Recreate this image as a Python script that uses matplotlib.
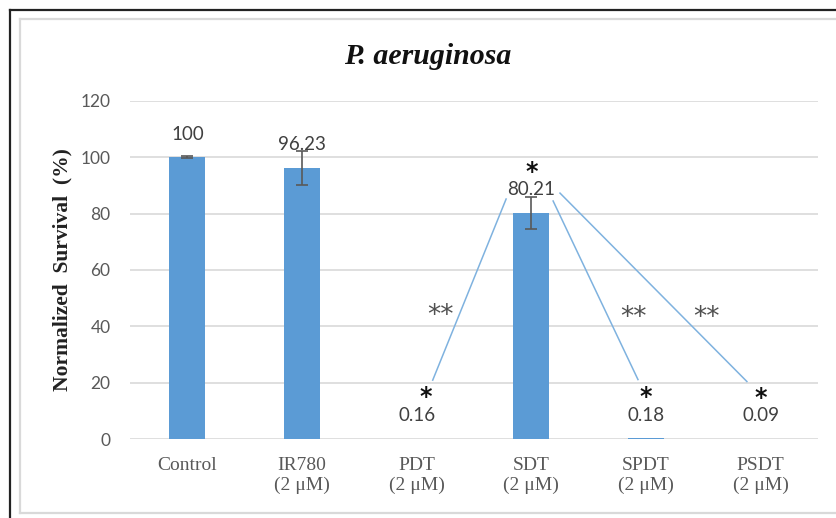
import matplotlib
matplotlib.use("Agg")
import matplotlib.pyplot as plt
from matplotlib.lines import Line2D

categories = ["Control", "IR780\n(2 μM)", "PDT\n(2 μM)", "SDT\n(2 μM)", "SPDT\n(2 μM)", "PSDT\n(2 μM)"]
values = [100, 96.23, 0.16, 80.21, 0.18, 0.09]
value_labels = ["100", "96.23", "0.16", "80.21", "0.18", "0.09"]
errors = [0.3, 6.1, None, 5.8, None, None]
single_star = [False, False, True, True, True, True]
yticks = [0, 20, 40, 60, 80, 100, 120]

# significance brackets (category index, value) pairs
sig_lines = [
    ((2.14, 20.9), (2.78, 85.2)),
    ((3.19, 84.5), (3.93, 21.1)),
    ((3.25, 87.3), (4.88, 20.4)),
]
double_star_pos = [(2.21, 43.5), (3.89, 43.0), (4.53, 43.0)]

W, H = 837, 518
fig = plt.figure(figsize=(W / 100, H / 100), dpi=100)
fig.patch.set_facecolor("white")

# outer frames
fig.add_artist(Line2D([10 / W, 10 / W], [0, 1 - 9.5 / H], color="#222222", lw=1.6, transform=fig.transFigure))
fig.add_artist(Line2D([10 / W, 1], [1 - 9.5 / H, 1 - 9.5 / H], color="#222222", lw=1.6, transform=fig.transFigure))
fig.add_artist(Line2D([20 / W, 20 / W], [1 - 513 / H, 1 - 19 / H], color="#d9d9d9", lw=1.6, transform=fig.transFigure))
fig.add_artist(Line2D([20 / W, 1], [1 - 19 / H, 1 - 19 / H], color="#d9d9d9", lw=1.6, transform=fig.transFigure))
fig.add_artist(Line2D([20 / W, 1], [1 - 513 / H, 1 - 513 / H], color="#d9d9d9", lw=1.6, transform=fig.transFigure))

ax = fig.add_axes([130 / W, 1 - 439 / H, 688 / W, 338 / H])
x = list(range(len(categories)))
ax.bar(x, values, width=0.315, color="#5b9bd5", zorder=3)
for i, (v, e) in enumerate(zip(values, errors)):
    if e is not None:
        ax.errorbar(i, v, yerr=e, fmt="none", ecolor="#595959", elinewidth=1.2,
                    capsize=4.5, capthick=1.2, zorder=4)

ax.set_xlim(-0.5, 5.5)
ax.set_ylim(0, 120)
ax.set_yticks(yticks)
ax.yaxis.grid(True, color="#d9d9d9", lw=1.2, zorder=0)
ax.set_axisbelow(True)
for s in ax.spines.values():
    s.set_visible(False)
ax.tick_params(axis="both", length=0)
ax.tick_params(axis="y", pad=14, labelsize=12.5, labelcolor="#595959")
ax.set_yticklabels([str(t) for t in yticks], family="Lato")
ax.set_xticks(x)
ax.set_xticklabels(categories, family="Liberation Serif", fontsize=14, color="#595959",
                   linespacing=1.2, va="top")
ax.tick_params(axis="x", pad=13)

ax.set_ylabel("Normalized  Survival  (%)", family="Liberation Serif", fontweight="bold",
              fontsize=15.5, color="#222222", labelpad=6)

fig.text(428 / W, 1 - 57 / H, "P. aeruginosa", family="Liberation Serif", fontweight="bold",
         style="italic", fontsize=21.5, ha="center", va="center", color="#111111")

# value labels
for i, (v, lab) in enumerate(zip(values, value_labels)):
    ax.text(i, v + 8.2, lab, ha="center", va="center", fontsize=13.5, family="Lato",
            color="#404040", zorder=5)

# single stars
for i, (v, s) in enumerate(zip(values, single_star)):
    if s:
        ax.text(i + (0.08 if i == 2 else 0), v + 14.6, "*", ha="center", va="center", fontsize=17,
                fontweight="bold", color="#111111", family="DejaVu Sans", zorder=5)

for (p0, p1) in sig_lines:
    ax.plot([p0[0], p1[0]], [p0[1], p1[1]], color="#7fb2df", lw=1.1, zorder=2)

for (px, py) in double_star_pos:
    ax.text(px, py, "**", ha="center", va="center", fontsize=19, color="#505050",
            family="DejaVu Sans", zorder=5)

fig.savefig("out.png", dpi=100, facecolor="white")
